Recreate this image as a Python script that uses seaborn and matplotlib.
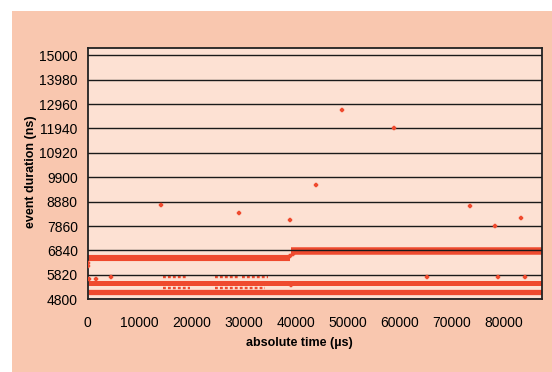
import pandas as pd
import matplotlib.pyplot as plt
import matplotlib.patches as mpatches
import seaborn as sns

band_names = ['base_low', 'base_high', 'mid', 'low']
band_x_start = [0, 39100, 0, 0]
band_x_end = [38900, 87300, 87300, 87300]
band_y = [6520, 6810, 5500, 5120]

# sparse rows of events
row_names = ['r1a', 'r1b', 'r1c', 'r2a', 'r2b']
row_x_start = [14400, 24500, 29600, 14500, 24500]
row_x_end = [19150, 28950, 34700, 19650, 34100]
row_y = [5750, 5750, 5750, 5280, 5280]

# isolated events
out_x = [48960, 58850, 43960, 14150, 29150, 38960, 73580, 78390, 83380,
         1540, 4540, 65200, 78850, 84040, 39100, 100, 150, 250, 38900, 39400]
out_y = [12725, 11948, 9565, 8729, 8420, 8115, 8687, 7851, 8211,
         5660, 5732, 5745, 5745, 5745, 5400, 6200, 6300, 5650, 6600, 6700]

y_ticks = [4800, 5820, 6840, 7860, 8880, 9900, 10920, 11940, 12960, 13980, 15000]
x_ticks = [0, 10000, 20000, 30000, 40000, 50000, 60000, 70000, 80000]

red = '#EF4A2E'
outer_bg = '#F9C7AF'
inner_bg = '#FDE1D3'

sns.set_style('white')
plt.rcParams['font.family'] = ['Liberation Sans', 'DejaVu Sans']
plt.rcParams['text.color'] = 'black'

fig = plt.figure(figsize=(5.52, 3.72), dpi=100)
fig.patch.set_facecolor('white')
fig.patches.append(mpatches.Rectangle((12 / 552, 0), 1, (372 - 11) / 372,
                                      transform=fig.transFigure,
                                      facecolor=outer_bg, edgecolor='none', zorder=-5))
ax = fig.add_axes([87.7 / 552, 1 - 299.3 / 372, 454 / 552, 251 / 372])
ax.set_zorder(2)
ax.set_facecolor(inner_bg)

bands = pd.DataFrame({
    'band': band_names + band_names,
    'x': band_x_start + band_x_end,
    'y': band_y + band_y,
})
band_lw = {'base_low': 4.4, 'base_high': 5.4, 'mid': 3.6, 'low': 3.8}
for name in band_names:
    sns.lineplot(data=bands[bands['band'] == name], x='x', y='y', color=red,
                 linewidth=band_lw[name], solid_capstyle='butt', ax=ax, zorder=1)

rows = pd.DataFrame({
    'row': row_names + row_names,
    'x': row_x_start + row_x_end,
    'y': row_y + row_y,
})
for name in row_names:
    sns.lineplot(data=rows[rows['row'] == name], x='x', y='y', color=red,
                 linewidth=1.7, linestyle=(0, (1.2, 0.9)), ax=ax, zorder=1)

sns.scatterplot(x=out_x, y=out_y, marker='P', s=9, color=red,
                edgecolor=red, linewidth=0.3, ax=ax, zorder=3)

ax.set_xlim(0, 87300)
ax.set_ylim(4800, 15290)
ax.set_xticks(x_ticks)
ax.set_yticks(y_ticks)
ax.set_xticklabels([str(v) for v in x_ticks])
ax.set_yticklabels([str(v) for v in y_ticks])
ax.grid(axis='y', color='#1a1a1a', linewidth=1.0, zorder=1.5)
ax.set_axisbelow(False)
ax.tick_params(axis='both', direction='out', length=3.6, width=1.0,
               color='#222222', labelsize=10, labelcolor='black')
ax.tick_params(axis='x', pad=9, length=3)
ax.tick_params(axis='y', pad=3.5)
for s in ax.spines.values():
    s.set_color('#222222')
    s.set_linewidth(1.3)
ax.set_xlabel('')
ax.set_ylabel('')

fig.text(299 / 552, 1 - 343 / 372, 'absolute time (µs)', ha='center', va='center',
         fontsize=9, fontweight='bold', color='black')
fig.text(31 / 552, 1 - 172 / 372, 'event duration (ns)', ha='center', va='center',
         rotation=90, fontsize=9, fontweight='bold', color='black')

fig.savefig('out.png', dpi=100, facecolor=fig.get_facecolor())
